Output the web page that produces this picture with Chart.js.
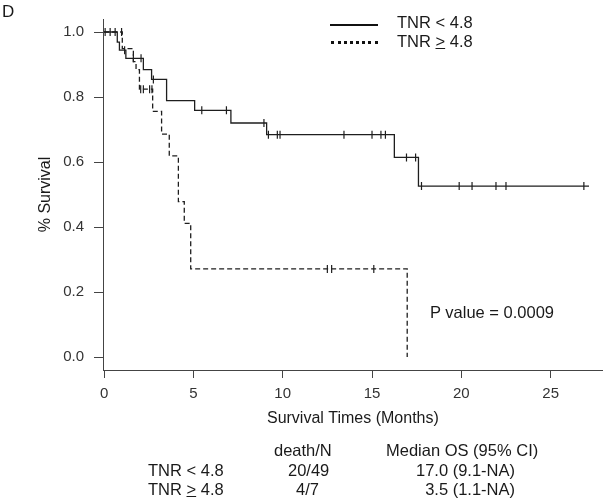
<!DOCTYPE html>
<html>
<head>
<meta charset="utf-8">
<script src="https://cdn.jsdelivr.net/npm/chart.js@4.4.0/dist/chart.umd.min.js"></script>
<style>
  html, body { margin: 0; padding: 0; background: #fff; }
  #wrap { position: relative; width: 608px; height: 503px; font-family: 'Liberation Sans', Arial, sans-serif; color: #1a1a1a; }
  #wrap canvas { position: absolute; left: 0; top: 0; }
  .t { position: absolute; font-size: 16.5px; line-height: 16px; white-space: nowrap; }
  .r { text-align: right; }
</style>
</head>
<body>
<div id="wrap">
  <canvas id="km" width="608" height="503"></canvas>

  <div class="t" style="left:2px; top:4px; font-size:17px;">D</div>

  <!-- legend -->
  <div style="position:absolute; left:330px; top:24px; width:48px; border-top:2px solid #111;"></div>
  <div style="position:absolute; left:331px; top:41px; width:47px; border-top:3px dotted #111;"></div>
  <div class="t" style="left:397px; top:14px;">TNR &lt; 4.8</div>
  <div class="t" style="left:397px; top:33px;">TNR <u>&gt;</u> 4.8</div>

  <div class="t" style="left:430px; top:304px;">P value = 0.0009</div>

  <!-- table under the plot -->
  <div class="t" style="left:274px; top:442px;">death/N</div>
  <div class="t" style="left:386px; top:442px;">Median OS (95% CI)</div>
  <div class="t" style="left:148px; top:462px;">TNR &lt; 4.8</div>
  <div class="t" style="left:288px; top:462px;">20/49</div>
  <div class="t r" style="right:93px; top:462px;">17.0 (9.1-NA)</div>
  <div class="t" style="left:148px; top:481px;">TNR <u>&gt;</u> 4.8</div>
  <div class="t" style="left:296px; top:481px;">4/7</div>
  <div class="t r" style="right:93px; top:481px;">3.5 (1.1-NA)</div>
</div>

<script>
// TNR < 4.8 : step times and survival after each step
var lowTimes = [0, 0.74, 0.86, 1.22, 2.2, 2.66, 3.5, 5.07, 7.1, 9.1, 16.25, 17.6, 27.15];
var lowSurv  = [1.0, 0.969, 0.944, 0.919, 0.884, 0.854, 0.789, 0.759, 0.72, 0.684, 0.614, 0.526, 0.526];
var lowCensor = [0.06, 0.34, 0.62, 1.15, 1.64, 2.07, 2.76, 5.47, 6.85, 8.95, 9.2, 9.7, 9.85,
                 13.43, 15.0, 15.5, 15.75, 16.93, 17.44, 17.77, 19.88, 20.6, 21.94, 22.5, 26.86];

// TNR >= 4.8
var highTimes = [0, 1.02, 1.64, 1.79, 1.98, 2.72, 3.22, 3.65, 4.16, 4.49, 4.85, 16.97];
var highSurv  = [1.0, 0.949, 0.909, 0.884, 0.824, 0.756, 0.686, 0.619, 0.478, 0.411, 0.271, 0.0];
var highCensor = [0.98, 2.05, 2.2, 2.55, 2.68, 12.5, 12.74, 15.1];

var xTicks = [0, 5, 10, 15, 20, 25];
var yTicks = [0, 0.2, 0.4, 0.6, 0.8, 1.0];

function toPoints(times, surv) {
    var pts = [];
    for (var i = 0; i < times.length; i++) {
        pts.push({x: times[i], y: surv[i]});
    }
    return pts;
}

// survival level at time t, so censor marks sit on the curve
function survAt(times, surv, t) {
    var s = surv[0];
    for (var i = 0; i < times.length; i++) {
        if (times[i] <= t) s = surv[i];
    }
    return s;
}

function censorPoints(cens, times, surv) {
    var pts = [];
    for (var i = 0; i < cens.length; i++) {
        pts.push({x: cens[i], y: survAt(times, surv, cens[i])});
    }
    return pts;
}

var lineColor = '#1e1e1e';
var font = "'Liberation Sans', Arial, sans-serif";

var ctx = document.getElementById("km");

var chart = new Chart(ctx, {
    type: "line",
    data: {
        datasets: [
            {
                label: "TNR < 4.8",
                data: toPoints(lowTimes, lowSurv),
                stepped: 'before',
                borderColor: lineColor,
                borderWidth: 1.3,
                pointRadius: 0,
                fill: false
            },
            {
                label: "TNR >= 4.8",
                data: toPoints(highTimes, highSurv),
                stepped: 'before',
                borderColor: lineColor,
                borderWidth: 1.3,
                borderDash: [5, 3],
                pointRadius: 0,
                fill: false
            },
            {
                label: "censor low",
                data: censorPoints(lowCensor, lowTimes, lowSurv),
                showLine: false,
                pointStyle: 'line',
                rotation: 90,
                pointRadius: 4,
                pointBorderWidth: 1.2,
                pointBorderColor: lineColor
            },
            {
                label: "censor high",
                data: censorPoints(highCensor, highTimes, highSurv),
                showLine: false,
                pointStyle: 'line',
                rotation: 90,
                pointRadius: 4,
                pointBorderWidth: 1.2,
                pointBorderColor: lineColor
            }
        ]
    },
    options: {
        responsive: false,
        animation: false,
        devicePixelRatio: 1,
        layout: { padding: { left: 0, right: 5, top: 10, bottom: 0 } },
        plugins: {
            legend: { display: false },
            tooltip: { enabled: false }
        },
        scales: {
            x: {
                type: 'linear',
                min: -0.06,
                max: 27.92,
                bounds: 'data',
                afterBuildTicks: function(scale) {
                    scale.ticks = xTicks.map(function(v) { return {value: v}; });
                },
                afterFit: function(scale) { scale.height = 133; },
                grid: { drawOnChartArea: false, drawTicks: true, tickLength: 8, color: '#444' },
                border: { display: true, color: '#444', width: 1 },
                ticks: {
                    autoSkip: false,
                    maxRotation: 0,
                    padding: 7,
                    color: '#333',
                    font: { family: font, size: 15 },
                    callback: function(v) { return v; }
                },
                title: {
                    display: true,
                    text: 'Survival Times (Months)',
                    color: '#1a1a1a',
                    font: { family: font, size: 16 },
                    padding: { top: 0, bottom: 75 }
                }
            },
            y: {
                type: 'linear',
                min: -0.04,
                max: 1.04,
                afterBuildTicks: function(scale) {
                    scale.ticks = yTicks.map(function(v) { return {value: v}; });
                },
                afterFit: function(scale) { scale.width = 103; },
                grid: { drawOnChartArea: false, drawTicks: true, tickLength: 9, color: '#444' },
                border: { display: true, color: '#444', width: 1 },
                ticks: {
                    autoSkip: false,
                    padding: 10,
                    color: '#333',
                    font: { family: font, size: 15 },
                    callback: function(v) { return v.toFixed(1); }
                },
                title: {
                    display: true,
                    text: '% Survival',
                    color: '#1a1a1a',
                    font: { family: font, size: 16 },
                    padding: { top: 36, bottom: 0 }
                }
            }
        }
    }
});
</script>
</body>
</html>
